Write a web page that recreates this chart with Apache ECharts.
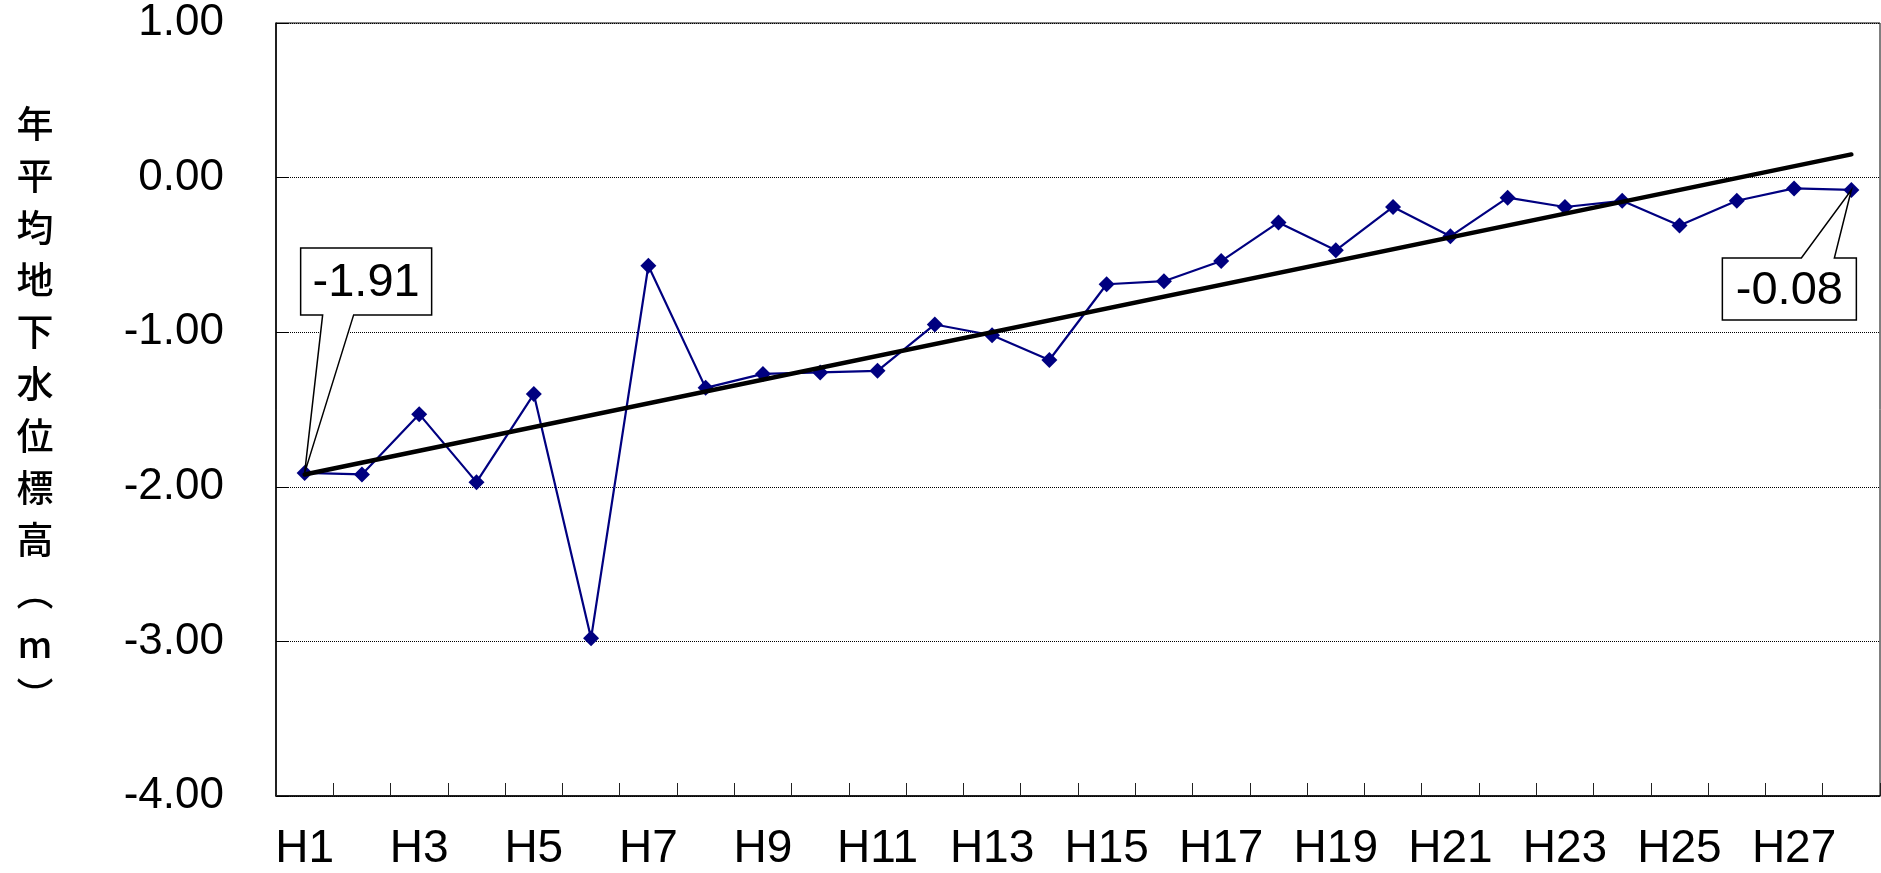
<!DOCTYPE html>
<html>
<head>
<meta charset="utf-8">
<title>年平均地下水位標高</title>
<script src="https://cdn.jsdelivr.net/npm/echarts@6/dist/echarts.min.js"></script>
<style>
  html, body { margin: 0; padding: 0; background: #fff; }
  #chart { width: 1881px; height: 873px; }
</style>
</head>
<body>
<div id="chart"></div>
<script>
// Fiscal years (Heisei era)
const years = ['H1', 'H2', 'H3', 'H4', 'H5', 'H6', 'H7', 'H8', 'H9', 'H10',
  'H11', 'H12', 'H13', 'H14', 'H15', 'H16', 'H17', 'H18', 'H19', 'H20',
  'H21', 'H22', 'H23', 'H24', 'H25', 'H26', 'H27', 'H28'];

// Annual mean groundwater level (m)
const levels = [-1.91, -1.92, -1.53, -1.97, -1.40, -2.98, -0.57, -1.36, -1.27, -1.26,
  -1.25, -0.95, -1.02, -1.18, -0.69, -0.67, -0.54, -0.29, -0.47, -0.19,
  -0.38, -0.13, -0.19, -0.15, -0.31, -0.15, -0.07, -0.08];

// Linear trend line, values at the first and last year
const trendEnds = [-1.92, 0.15];

// Years whose value is called out in a box (indices into years)
const calloutYears = [0, 27];

// Value axis range
const yMin = -4, yMax = 1, yStep = 1;

const yTitle = '年平均地下水位標高（m）';
// stack the title vertically, using vertical forms for the brackets
const verticalTitle = Array.from(yTitle)
  .map(c => (c === '（' ? '\uFE35' : c === '）' ? '\uFE36' : c))
  .join('\n');

// Callout geometry relative to the marked point: box edges and the base of the pointer
const calloutShapes = [
  { x0: -4, x1: 127, y0: -225, y1: -158, b0: 18, b1: 49, baseOnBottom: true },
  { x0: -129, x1: 5, y0: 68, y1: 130, b0: -50, b1: -17, baseOnBottom: false }
];

const chart = echarts.init(document.getElementById('chart'));

const labelFont = '"Liberation Sans", Arial, Helvetica, sans-serif';

chart.setOption({
  backgroundColor: '#fff',
  animation: false,
  grid: {
    left: 276, right: 1, top: 23, bottom: 77,
    show: true, borderColor: '#000', borderWidth: 1, backgroundColor: 'transparent'
  },
  xAxis: {
    type: 'category',
    data: years,
    boundaryGap: true,
    axisLine: { show: true, onZero: false, lineStyle: { color: '#000', width: 1.5 } },
    axisTick: { show: true, inside: true, length: 13, interval: 0, lineStyle: { color: '#222', width: 1 } },
    axisLabel: { interval: 1, margin: 30, color: '#000', fontSize: 46, fontFamily: labelFont },
    splitLine: { show: false }
  },
  yAxis: {
    type: 'value',
    min: yMin, max: yMax, interval: yStep,
    name: verticalTitle,
    nameLocation: 'middle',
    nameRotate: 0,
    nameGap: 241,
    nameTextStyle: {
      fontFamily: '"Noto Sans CJK JP", sans-serif',
      fontSize: 37, fontWeight: 500, lineHeight: 52, color: '#000',
      align: 'center', verticalAlign: 'middle',
      padding: [31, 0, 0, 0]
    },
    axisLine: { show: true, lineStyle: { color: '#000', width: 1.5 } },
    axisTick: { show: true, inside: true, length: 13, lineStyle: { color: '#000', width: 1 } },
    axisLabel: {
      margin: 52, color: '#000', fontSize: 44, fontFamily: labelFont,
      formatter: v => v.toFixed(2)
    },
    splitLine: { show: true, lineStyle: { color: '#000', width: 1, type: [1, 1] } }
  },
  series: [
    {
      name: '年平均地下水位',
      type: 'line',
      data: levels,
      z: 2,
      symbol: 'diamond',
      symbolSize: 16,
      showAllSymbol: true,
      itemStyle: { color: '#000080' },
      lineStyle: { color: '#000080', width: 2.2 }
    },
    {
      name: '線形近似',
      type: 'line',
      data: [[years[0], trendEnds[0]], [years[years.length - 1], trendEnds[1]]],
      z: 3,
      symbol: 'none',
      lineStyle: { color: '#000', width: 4.5, cap: 'round' },
      silent: true
    },
    {
      name: '数値',
      type: 'custom',
      z: 5,
      clip: false,
      data: calloutYears.map(i => [i, levels[i]]),
      renderItem: function (params, api) {
        const p = api.coord([api.value(0), api.value(1)]);
        const s = calloutShapes[params.dataIndex];
        const X = d => p[0] + d, Y = d => p[1] + d;
        let pts;
        if (s.baseOnBottom) {
          pts = [[X(s.x0), Y(s.y0)], [X(s.x1), Y(s.y0)], [X(s.x1), Y(s.y1)],
                 [X(s.b1), Y(s.y1)], [p[0], p[1]], [X(s.b0), Y(s.y1)], [X(s.x0), Y(s.y1)]];
        } else {
          pts = [[X(s.x0), Y(s.y0)], [X(s.b0), Y(s.y0)], [p[0], p[1]], [X(s.b1), Y(s.y0)],
                 [X(s.x1), Y(s.y0)], [X(s.x1), Y(s.y1)], [X(s.x0), Y(s.y1)]];
        }
        return {
          type: 'group',
          children: [
            {
              type: 'polygon',
              shape: { points: pts },
              style: { fill: '#fff', stroke: '#000', lineWidth: 1.5, lineJoin: 'miter' }
            },
            {
              type: 'text',
              x: X((s.x0 + s.x1) / 2),
              y: Y((s.y0 + s.y1) / 2) + 2,
              style: {
                text: api.value(1).toFixed(2),
                font: '47px ' + labelFont,
                fill: '#000',
                align: 'center',
                verticalAlign: 'middle'
              }
            }
          ]
        };
      }
    }
  ]
});
</script>
</body>
</html>
